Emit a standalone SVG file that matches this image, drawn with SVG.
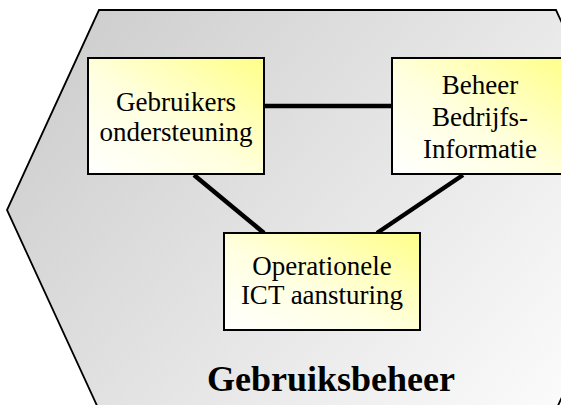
<svg xmlns="http://www.w3.org/2000/svg" width="561" height="405" viewBox="0 0 561 405">
<defs>
<linearGradient id="hexg" gradientUnits="userSpaceOnUse" x1="100" y1="10" x2="560" y2="405">
<stop offset="0" stop-color="#cfcfcf"/>
<stop offset="1" stop-color="#fbfbfb"/>
</linearGradient>
<linearGradient id="boxg" x1="0" y1="1" x2="1" y2="0">
<stop offset="0" stop-color="#ffffff"/>
<stop offset="0.45" stop-color="#ffffe0"/>
<stop offset="1" stop-color="#ffff88"/>
</linearGradient>
</defs>
<style>
.box{fill:url(#boxg);stroke:#000;stroke-width:2}
.lbl{font-family:"Liberation Serif","Times New Roman",serif;font-size:27px;fill:#000;text-anchor:middle}
.title{font-family:"Liberation Serif","Times New Roman",serif;font-size:36px;font-weight:bold;fill:#000;text-anchor:middle}
.conn{stroke:#000;stroke-width:4.5;fill:none}
</style>
<rect width="561" height="405" fill="#fff"/>
<g id="hexagon">
<polygon points="99,10 556,10 648,210 556,410 99,410 7,210" fill="url(#hexg)" stroke="#000" stroke-width="1.8"/>
<text class="title" x="331" y="391">Gebruiksbeheer</text>
</g>
<g id="connectors">
<line class="conn" x1="264" y1="106" x2="392" y2="106"/>
<line class="conn" x1="194" y1="175" x2="264" y2="233"/>
<line class="conn" x1="463" y1="175" x2="377" y2="233"/>
</g>
<g id="gebruikers">
<rect class="box" x="88" y="58" width="176" height="116"/>
<text class="lbl" x="176" y="111">Gebruikers</text>
<text class="lbl" x="176" y="141">ondersteuning</text>
</g>
<g id="beheer">
<rect class="box" x="392" y="58" width="176" height="116"/>
<text class="lbl" x="480" y="94">Beheer</text>
<text class="lbl" x="480" y="126">Bedrijfs-</text>
<text class="lbl" x="480" y="158">Informatie</text>
</g>
<g id="operationele">
<rect class="box" x="224" y="233" width="196" height="97"/>
<text class="lbl" x="322" y="275">Operationele</text>
<text class="lbl" x="322" y="304">ICT aansturing</text>
</g>
</svg>
